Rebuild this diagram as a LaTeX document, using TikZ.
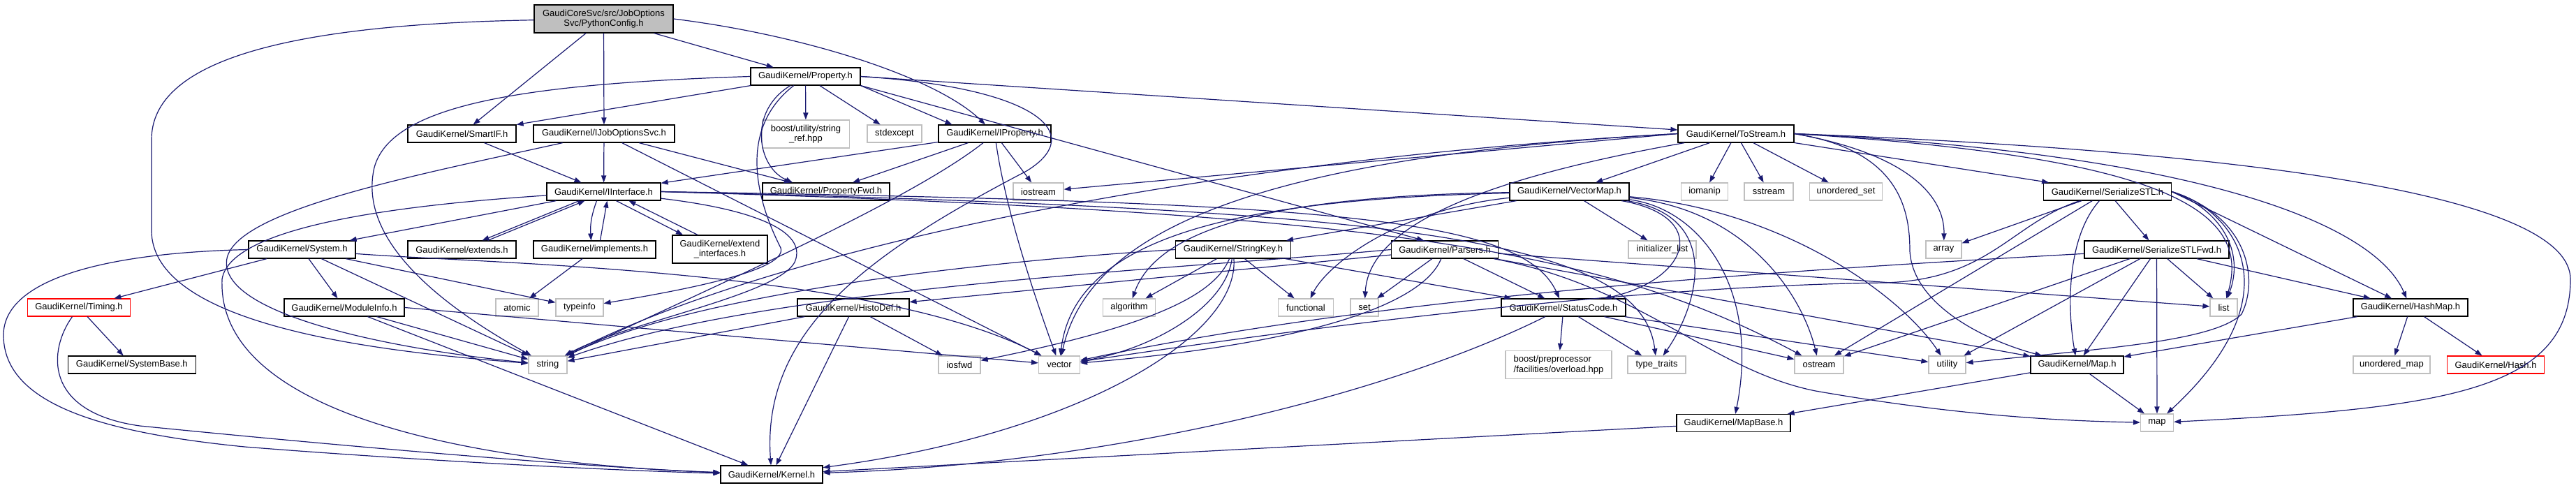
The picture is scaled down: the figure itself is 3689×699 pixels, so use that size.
\documentclass[tikz,border=0pt]{standalone}
\usepackage{fontspec}
\setmainfont{Liberation Sans}
\usetikzlibrary{arrows.meta,calc}
\definecolor{edgec}{HTML}{191970}
\definecolor{grayb}{HTML}{BFBFBF}
\definecolor{redb}{HTML}{FF0000}
\definecolor{fillg}{HTML}{BFBFBF}
\newcommand\nfs{\fontsize{6.5pt}{7.2pt}\selectfont}
\begin{document}
\begin{tikzpicture}[x=0.5pt,y=-0.5pt,
 hbox/.style={draw=black, line width=0.6pt, rectangle, inner sep=0pt, minimum height=12.5pt, font=\nfs, align=center},
 sbox/.style={hbox, draw=grayb},
 rbox/.style={hbox, draw=redb},
 bw/.style={minimum width=#1*0.5pt},
 tall/.style={minimum height=20pt},
 edg/.style={draw=edgec, line width=0.6pt, -{Triangle[length=5pt,width=3.6pt]}},
]
\useasboundingbox (0,0) rectangle (3689,699);
\node[hbox,bw=199,tall,fill=fillg] (pc) at (864.5,27) {GaudiCoreSvc/src/JobOptions\\Svc/PythonConfig.h};
\node[hbox,bw=157] (prop) at (1153.5,109.5) {GaudiKernel/Property.h};
\node[hbox,bw=155] (smartif) at (661.5,191.5) {GaudiKernel/SmartIF.h};
\node[hbox,bw=202] (ijos) at (865,191.5) {GaudiKernel/IJobOptionsSvc.h};
\node[sbox,bw=125,tall] (sref) at (1154,192) {boost/utility/string\\\_ref.hpp};
\node[sbox,bw=78] (stdexc) at (1281,191.5) {stdexcept};
\node[hbox,bw=161] (iprop) at (1424.5,191.5) {GaudiKernel/IProperty.h};
\node[hbox,bw=166] (tostream) at (2486,191.5) {GaudiKernel/ToStream.h};
\node[hbox,bw=163] (iint) at (864.5,274.5) {GaudiKernel/IInterface.h};
\node[hbox,bw=182] (pfwd) at (1183,274.5) {GaudiKernel/PropertyFwd.h};
\node[sbox,bw=72] (iostream) at (1487,274.5) {iostream};
\node[hbox,bw=171] (vmap) at (2247.5,274.5) {GaudiKernel/VectorMap.h};
\node[sbox,bw=67] (iomanip) at (2441,274.5) {iomanip};
\node[sbox,bw=70] (sstream) at (2533,274.5) {sstream};
\node[sbox,bw=104] (uset) at (2643.5,274.5) {unordered\_set};
\node[hbox,bw=183] (sstl) at (3018,274.5) {GaudiKernel/SerializeSTL.h};
\node[hbox,bw=153] (system) at (432.5,357.5) {GaudiKernel/System.h};
\node[hbox,bw=155] (extends) at (661.5,357.5) {GaudiKernel/extends.h};
\node[hbox,bw=175] (implements) at (851.5,357.5) {GaudiKernel/implements.h};
\node[hbox,bw=136,tall] (extif) at (1031,357) {GaudiKernel/extend\\\_interfaces.h};
\node[hbox,bw=165] (skey) at (1766,357.5) {GaudiKernel/StringKey.h};
\node[hbox,bw=153] (parsers) at (2069,357.5) {GaudiKernel/Parsers.h};
\node[sbox,bw=97] (initl) at (2380.5,357.5) {initializer\_list};
\node[sbox,bw=51] (array) at (2783.5,357.5) {array};
\node[hbox,bw=207] (sstlfwd) at (3088.5,357.5) {GaudiKernel/SerializeSTLFwd.h};
\node[rbox,bw=147] (timing) at (113,440.5) {GaudiKernel/Timing.h};
\node[hbox,bw=172] (modinfo) at (493,440.5) {GaudiKernel/ModuleInfo.h};
\node[sbox,bw=61] (atomic) at (740.5,440.5) {atomic};
\node[sbox,bw=68] (typeinfo) at (830,440.5) {typeinfo};
\node[hbox,bw=160] (histodef) at (1222,440.5) {GaudiKernel/HistoDef.h};
\node[sbox,bw=75] (algorithm) at (1617,440.5) {algorithm};
\node[sbox,bw=79] (functional) at (1870,440.5) {functional};
\node[sbox,bw=40] (set) at (1954,440.5) {set};
\node[hbox,bw=178] (statuscode) at (2239,440.5) {GaudiKernel/StatusCode.h};
\node[sbox,bw=39] (list) at (3184.5,440.5) {list};
\node[hbox,bw=164] (hashmap) at (3452,440.5) {GaudiKernel/HashMap.h};
\node[hbox,bw=183] (sysbase) at (188.8,522.5) {GaudiKernel/SystemBase.h};
\node[sbox,bw=55] (string) at (784.5,522.5) {string};
\node[sbox,bw=60] (iosfwd) at (1374,522.5) {iosfwd};
\node[sbox,bw=59] (vector) at (1517,522.5) {vector};
\node[sbox,bw=152,tall,align=left] (bpp) at (2232,522.5) {boost/preprocessor\\/facilities/overload.hpp};
\node[sbox,bw=83] (ttraits) at (2372.5,522.5) {type\_traits};
\node[sbox,bw=70] (ostream) at (2605,522.5) {ostream};
\node[sbox,bw=53] (utility) at (2788.5,522.5) {utility};
\node[hbox,bw=133] (mapH) at (2974.5,522.5) {GaudiKernel/Map.h};
\node[sbox,bw=110] (umap) at (3425,522.5) {unordered\_map};
\node[rbox,bw=139] (hash) at (3574,522.5) {GaudiKernel/Hash.h};
\node[hbox,bw=163] (mapbase) at (2482.5,606) {GaudiKernel/MapBase.h};
\node[sbox,bw=47] (map) at (3089,605.5) {map};
\node[hbox,bw=146] (kernel) at (1105,679.5) {GaudiKernel/Kernel.h};
% PythonConfig
\draw[edg] (pc) .. controls (400,35) and (217,90) .. (217,200) -- (217,330) .. controls (217,470) and (560,505) .. (string);
\draw[edg] (pc) -- (smartif);
\draw[edg] (pc) -- (ijos);
\draw[edg] (pc) -- (prop);
\draw[edg] (pc.east) .. controls (1150,50) and (1340,110) .. (iprop);
% Property
\draw[edg] (prop) -- (smartif);
\draw[edg] (prop.west) .. controls (750,120) and (560,150) .. (536,240) .. controls (515,330) and (600,420) .. (string);
\draw[edg] (prop) -- (sref);
\draw[edg] (prop) -- (stdexc);
\draw[edg] (prop.south east) -- ($(iprop.north west)+(20,0)$);
\draw[edg] (prop) .. controls (1070,160) and (1085,240) .. ($(pfwd.north)+(-48,0)$);
\draw[edg] (prop) .. controls (1050,190) and (1090,300) .. (1118,355) .. controls (1130,390) and (950,420) .. (typeinfo);
\draw[edg] (prop.east) .. controls (1480,125) and (1560,190) .. (1470,245) .. controls (1250,360) and (1090,470) .. (kernel);
\draw[edg] (prop.east) -- (tostream);
\draw[edg] (prop.south east) -- ($(parsers.north)+(-30,0)$);
% SmartIF, IJobOptionsSvc
\draw[edg] (smartif) -- (iint);
\draw[edg] (ijos) -- (iint);
\draw[edg] (ijos) -- (pfwd);
\draw[edg] (ijos) .. controls (600,250) and (340,300) .. (325,370) .. controls (310,450) and (560,500) .. (string);
\draw[edg] (ijos) -- (vector);
% IProperty
\draw[edg] (iprop) -- (iint);
\draw[edg] (iprop) -- (pfwd);
\draw[edg] (iprop) .. controls (1300,290) and (1000,420) .. (string);
\draw[edg] (iprop) .. controls (1440,300) and (1480,420) .. (vector);
\draw[edg] (iprop) -- (iostream);
% IInterface
\draw[edg] (iint) -- (system);
\draw[edg] (iint) .. controls (600,292) and (330,320) .. (318,400) .. controls (310,600) and (700,665) .. (kernel);
\draw[edg] ($(iint.south)+(-35,0)$) -- ($(extends.north)+(29,0)$);
\draw[edg] ($(extends.north)+(37,0)$) -- ($(iint.south)+(-27,0)$);
\draw[edg] ($(iint.south)+(-10,0)$) to[bend right=12] ($(implements.north)+(-5,0)$);
\draw[edg] ($(implements.north)+(8,0)$) -- ($(iint.south)+(5,0)$);
\draw[edg] ($(iint.south)+(18,0)$) -- ($(extif.north)+(-53,0)$);
\draw[edg] ($(extif.north)+(-32,0)$) -- ($(iint.south)+(36,0)$);
\draw[edg] (iint.east) .. controls (1900,290) and (2180,310) .. (statuscode);
\draw[edg] (iint.east) .. controls (2000,300) and (2350,340) .. (ttraits);
\draw[edg] (iint.east) .. controls (2000,305) and (2300,360) .. (ostream);
\draw[edg] (iint) .. controls (1080,300) and (1150,330) .. (1140,370) .. controls (1130,420) and (900,460) .. (string);
\draw[edg] (implements) -- (atomic);
% System
\draw[edg] (system) -- (timing);
\draw[edg] (system) -- (modinfo);
\draw[edg] (system.west) .. controls (150,362) and (5,400) .. (5,480) .. controls (5,580) and (150,620) .. (350,640) .. controls (600,660) and (900,675) .. (kernel);
\draw[edg] (system) -- (string);
\draw[edg] (system) -- (typeinfo);
\draw[edg] (system) .. controls (700,378) and (1250,385) .. (vector);
% Timing, ModuleInfo, HistoDef
\draw[edg] (timing) -- (sysbase);
\draw[edg] (timing) .. controls (70,500) and (60,590) .. (200,610) .. controls (500,640) and (850,670) .. (kernel);
\draw[edg] (modinfo) -- (kernel);
\draw[edg] (modinfo) -- (string);
\draw[edg] (modinfo.east) -- (vector);
\draw[edg] (histodef) -- (string);
\draw[edg] (histodef) -- (iosfwd);
\draw[edg] (histodef) -- (kernel);
% StringKey
\draw[edg] (skey.west) .. controls (1400,375) and (1000,420) .. (string);
\draw[edg] (skey) -- (algorithm);
\draw[edg] (skey) .. controls (1740,420) and (1660,465) .. (iosfwd);
\draw[edg] (skey) .. controls (1755,440) and (1650,500) .. (vector);
\draw[edg] (skey) .. controls (1775,480) and (1550,620) .. (kernel);
\draw[edg] (skey) -- (functional);
\draw[edg] (skey) -- (statuscode);
% Parsers
\draw[edg] (parsers) -- (histodef);
\draw[edg] (parsers) -- (set);
\draw[edg] (parsers) .. controls (2040,430) and (1900,490) .. (vector);
\draw[edg] (parsers) -- (statuscode);
\draw[edg] (parsers.west) .. controls (1700,385) and (1100,410) .. (string);
\draw[edg] (parsers) -- (list);
\draw[edg] (parsers) -- (mapH);
\draw[edg] (parsers) .. controls (2350,410) and (2450,530) .. (2600,560) .. controls (2800,595) and (2950,603) .. (map);
% StatusCode
\draw[edg] (statuscode) .. controls (2000,560) and (1600,665) .. (kernel);
\draw[edg] (statuscode) -- (bpp);
\draw[edg] (statuscode) -- (ttraits);
\draw[edg] (statuscode) -- (ostream);
\draw[edg] (statuscode) -- (utility);
% VectorMap
\draw[edg] (vmap) .. controls (1850,280) and (1660,320) .. (algorithm);
\draw[edg] (vmap) .. controls (1800,285) and (1540,330) .. (vector);
\draw[edg] (vmap) .. controls (2000,300) and (1900,380) .. (functional);
\draw[edg] (vmap) -- (skey);
\draw[edg] (vmap) -- (initl);
\draw[edg] (vmap) .. controls (2440,300) and (2520,420) .. (mapbase);
\draw[edg] (vmap) .. controls (2500,300) and (2580,420) .. (ostream);
\draw[edg] (vmap) .. controls (2550,300) and (2720,420) .. (utility);
\draw[edg] (vmap) .. controls (2450,310) and (2420,400) .. (statuscode);
\draw[edg] (vmap) .. controls (2470,310) and (2430,440) .. (ttraits);
% ToStream
\draw[edg] (tostream) -- (vmap);
\draw[edg] (tostream.west) -- (iostream);
\draw[edg] (tostream.west) .. controls (1700,230) and (1100,360) .. (string);
\draw[edg] (tostream.west) .. controls (1800,225) and (1560,330) .. (vector);
\draw[edg] (tostream) .. controls (2100,260) and (1960,330) .. (set);
\draw[edg] (tostream) -- (iomanip);
\draw[edg] (tostream) -- (sstream);
\draw[edg] (tostream) -- (uset);
\draw[edg] (tostream) -- (sstl);
\draw[edg] (tostream.east) .. controls (2730,220) and (2785,280) .. (array);
\draw[edg] (tostream.east) .. controls (3100,225) and (3225,300) .. (list);
\draw[edg] (tostream.east) .. controls (3150,220) and (3400,320) .. (hashmap);
\draw[edg] (tostream.east) .. controls (3300,220) and (3681,290) .. (3681,400) .. controls (3681,560) and (3500,585) .. (map);
\draw[edg] (tostream.east) .. controls (2720,215) and (2735,300) .. (2735,360) .. controls (2740,440) and (2850,490) .. (mapH);
% SerializeSTL
\draw[edg] (sstl) -- (array);
\draw[edg] (sstl) -- (sstlfwd);
\draw[edg] (sstl.east) .. controls (3180,300) and (3215,360) .. (list);
\draw[edg] (sstl.east) .. controls (3200,300) and (3290,420) .. (map);
\draw[edg] (sstl.east) -- (hashmap);
\draw[edg] (sstl) .. controls (2960,340) and (2960,440) .. (mapH);
\draw[edg] (sstl) -- (ostream);
\draw[edg] (sstl) .. controls (2880,320) and (2850,400) .. (2700,405) .. controls (2300,410) and (1800,480) .. (vector);
\draw[edg] (sstl.east) .. controls (3220,310) and (3235,400) .. (3210,450) .. controls (3170,490) and (3000,500) .. (utility);
% SerializeSTLFwd
\draw[edg] (sstlfwd) -- (list);
\draw[edg] (sstlfwd) -- (map);
\draw[edg] (sstlfwd) -- (hashmap);
\draw[edg] (sstlfwd) -- (mapH);
\draw[edg] (sstlfwd) -- (ostream);
\draw[edg] (sstlfwd) -- (utility);
\draw[edg] (sstlfwd) .. controls (2600,385) and (2000,420) .. (vector);
% HashMap, Map, MapBase
\draw[edg] (hashmap) -- (mapH);
\draw[edg] (hashmap) -- (umap);
\draw[edg] (hashmap) -- (hash);
\draw[edg] (mapH) -- (mapbase);
\draw[edg] (mapH) -- (map);
\draw[edg] (mapbase) -- (kernel);
\end{tikzpicture}
\end{document}
